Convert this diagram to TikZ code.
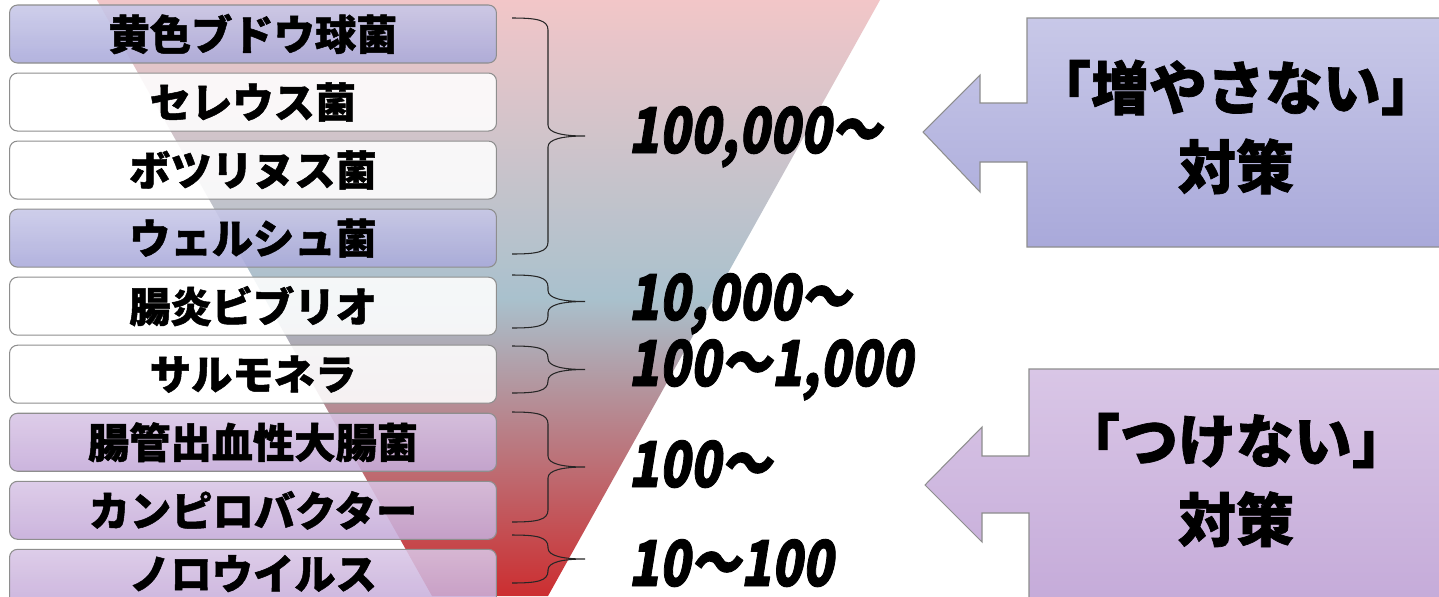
\documentclass[tikz,border=0pt]{standalone}
\usepackage{fontspec}
\setmainfont{Noto Sans CJK JP}[BoldFeatures={FakeBold=1.2}]
\newfontfamily\numfont{Noto Sans CJK JP}[FakeSlant=0.2, BoldFeatures={FakeSlant=0.2, FakeBold=1.5}]
\usetikzlibrary{positioning, calc}

\definecolor{bandtop}{HTML}{F2C6C8}
\definecolor{bandmid}{HTML}{A9C1CD}
\definecolor{bandbot}{HTML}{CC2E30}
\definecolor{blueA}{HTML}{C8C8E8}
\definecolor{blueB}{HTML}{A9A9DA}
\definecolor{lilacA}{HTML}{D9C6E6}
\definecolor{lilacB}{HTML}{C5ABD9}
\definecolor{edgegray}{HTML}{8E8E8E}

\begin{document}
\begin{tikzpicture}[
    x=0.02cm, y=-0.02cm,
    germ/.style={draw=edgegray, line width=0.6pt, rounded corners=0.16cm, minimum width=9.74cm, minimum height=1.16cm, inner sep=0pt, font=\bfseries\fontsize{23.5}{23.5}\selectfont, fill opacity=0.88, text opacity=1},
    clearbox/.style={germ, fill=white},
    grpA/.style={germ, top color=blueA, bottom color=blueB},
    grpB/.style={germ, top color=lilacA, bottom color=lilacB},
    bracket/.style={draw=black!85, line width=0.6pt, to path={
        (\tikztostart) .. controls +(25,0) and +(0,-10) .. ++(36,12)
        -- ($(\tikztostart)!.5!(\tikztotarget)+(36,-11)$)
        .. controls +(0,8) and +(-22,0) .. ($(\tikztostart)!.5!(\tikztotarget)+(73,0)$)
        .. controls +(-22,0) and +(0,-8) .. ($(\tikztostart)!.5!(\tikztotarget)+(36,11)$)
        -- ($(\tikztotarget)+(36,-12)$)
        .. controls +(0,10) and +(25,0) .. (\tikztotarget)}},
    dose/.style={font=\numfont\bfseries\fontsize{36}{36}\selectfont, inner sep=0pt, anchor=base west},
    callout/.style={draw=edgegray, line width=0.6pt},
    plan/.style={font=\bfseries\fontsize{33}{45}\selectfont, align=center, inner sep=0pt}
]
\useasboundingbox (0,0) rectangle (1439,596);
\fill[white] (0,0) rectangle (1439,596);

% gradient band behind the list
\shade[top color=bandtop, bottom color=bandbot, middle color=bandmid]
    (97,0) -- (880,0) -- (548,596) -- (432,596) -- cycle;

% germs
\node[grpA] (staph) at (253,34) {黄色ブドウ球菌};
\node[clearbox, below=0.18cm of staph] (cereus) {セレウス菌};
\node[clearbox, below=0.18cm of cereus] (botul) {ボツリヌス菌};
\node[grpA, below=0.18cm of botul] (welch) {ウェルシュ菌};
\node[clearbox, below=0.18cm of welch] (vibrio) {腸炎ビブリオ};
\node[clearbox, below=0.18cm of vibrio] (salmo) {サルモネラ};
\node[grpB, below=0.18cm of salmo] (ehec) {腸管出血性大腸菌};
\node[grpB, below=0.18cm of ehec] (campy) {カンピロバクター};
\node[grpB, text depth=7pt, below=0.18cm of campy] (noro) {ノロウイルス};

% brace ends
\coordinate (b1a) at (512,18);  \coordinate (b1b) at (512,254);
\coordinate (b2a) at (512,275); \coordinate (b2b) at (512,328);
\coordinate (b3a) at (512,346); \coordinate (b3b) at (512,393);
\coordinate (b4a) at (512,412); \coordinate (b4b) at (512,522);
\coordinate (b5a) at (512,535); \coordinate (b5b) at (512,583);

\draw[bracket] (b1a) to (b1b);
\draw[bracket] (b2a) to (b2b);
\draw[bracket] (b3a) to (b3b);
\draw[bracket] (b4a) to (b4b);
\draw[bracket] (b5a) to (b5b);

% infective doses
\node[dose] (d1) at (628,153) {\scalebox{0.8}[1]{100,000～}};
\node[dose] (d2) at (628,320) {\scalebox{0.8}[1]{10,000～}};
\node[dose] (d3) at (628,386) {\scalebox{0.8}[1]{100～1,000}};
\node[dose] (d4) at (628,487) {\scalebox{0.8}[1]{100～}};
\node[dose] (d5) at (628,586) {\scalebox{0.8}[1]{10～100}};

% measures
\shadedraw[callout, top color=blueA, bottom color=blueB]
    (1027,18) -| (1445,247) -| (1027,162) -- (980,162) -- (980,192)
    -- (923,132) -- (980,75) -- (980,103) -- (1027,103) -- cycle;
\node[plan] (grow) at (1236,127) {「増やさない」\\対策};

\shadedraw[callout, top color=lilacA, bottom color=lilacB]
    (1029,369) -| (1445,602) -| (1029,513) -- (982,513) -- (982,542)
    -- (925,485) -- (982,427) -- (982,456) -- (1029,456) -- cycle;
\node[plan] (touch) at (1236,480) {「つけない」\\対策};

\end{tikzpicture}
\end{document}
